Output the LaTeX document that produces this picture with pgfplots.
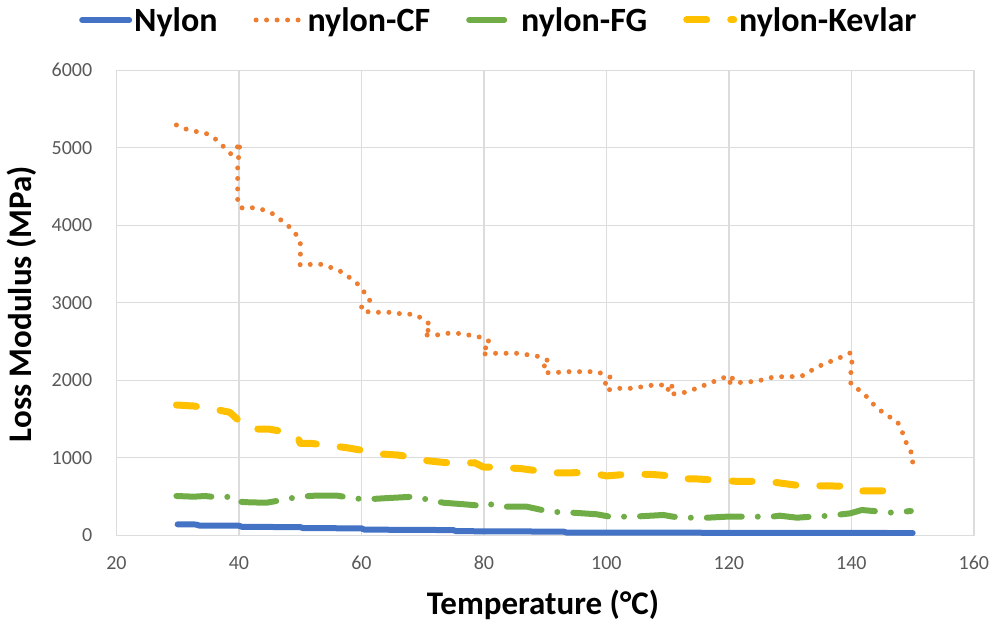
\documentclass[border=0pt]{standalone}
\usepackage{fontspec}
\setmainfont{Carlito}
\usepackage{pgfplots}
\pgfplotsset{compat=1.18}
\definecolor{cblue}{HTML}{4472C4}
\definecolor{corange}{HTML}{ED7D31}
\definecolor{cgreen}{HTML}{70AD47}
\definecolor{cyellow}{HTML}{FFC000}
\definecolor{gridgray}{HTML}{DCDCDC}
\definecolor{tickgray}{HTML}{595959}
\begin{document}
\begin{tikzpicture}
\begin{axis}[
  scale only axis, width=857.5pt, height=465pt,
  xmin=20, xmax=160, ymin=0, ymax=6000,
  xtick={20,40,...,160}, ytick={0,1000,...,6000},
  grid=major, major grid style={draw=gridgray, line width=1.2pt},
  axis line style={draw=gridgray, line width=1.2pt},
  major tick length=0pt,
  tick label style={font=\fontsize{20}{24}\selectfont, text=tickgray},
  /pgf/number format/assume math mode=true,
  /pgf/number format/1000 sep={},
  xticklabel style={anchor=center, yshift=-28pt, inner sep=0pt},
  yticklabel style={anchor=east, xshift=-24pt, inner sep=0pt},
  xlabel={Temperature (°C)}, ylabel={Loss Modulus (MPa)},
  label style={font=\fontsize{33}{40}\selectfont\bfseries},
  xlabel style={at={(axis description cs:0.4975,-0.1505)}, anchor=center},
  ylabel style={at={(axis description cs:-0.1101,0.497)}, anchor=center},
  legend columns=4,
  legend image code/.code={\draw[#1] (0pt,0pt) -- (47pt,0pt);},
  legend style={draw=none, fill=none, at={(axis description cs:0.446,1.108)}, anchor=center,
    font=\fontsize{34}{40}\selectfont\bfseries, nodes={inner sep=2pt},
    /tikz/every even column/.append style={column sep=34pt}},
]
\addplot[cblue, line width=6pt, line cap=round, line join=round] coordinates {
(30,140) (33,138) (33.5,125) (40,122) (40.5,108) (50,104) (50.5,92) (60,88) (60.5,72) (75,66) (75.5,52) (93,46) (93.5,34) (150,28)};
\addlegendentry{Nylon}
\addplot[corange, line width=5pt, line cap=round, line join=round, dash pattern=on 0pt off 10.5pt] coordinates {
(29.8,5293) (31.5,5237) (33.2,5206) (34.9,5177) (36.4,5099) (37.6,5005) (38.7,4919) (39.5,4960) (40.1,5074) (40.1,4935) (39.8,4819) (39.8,4703) (39.8,4561) (39.8,4412) (39.8,4270) (40.6,4218) (42.4,4226) (44.1,4196) (45.7,4141) (47.0,4058) (48.2,3981) (49.3,3883) (50.0,3787) (50.1,3680) (50.0,3594) (50.0,3486) (51.9,3495) (53.4,3495) (55.1,3452) (56.7,3400) (58.0,3328) (59.2,3258) (60.4,3142) (61.4,3035) (59.8,2928) (61.3,2876) (63.0,2876) (64.8,2876) (66.7,2854) (68.6,2850) (70.4,2777) (71.5,2690) (70.1,2583) (72.3,2583) (73.9,2605) (75.7,2605) (77.5,2583) (79.1,2561) (80.7,2519) (81.0,2432) (79.6,2403) (80.2,2339) (81.8,2347) (83.7,2347) (85.5,2347) (87.4,2325) (89.2,2303) (90.8,2239) (89.7,2174) (90.0,2097) (91.6,2097) (93.2,2110) (95.0,2110) (96.8,2110) (98.4,2110) (100.0,2067) (100.9,2025) (99.5,1938) (100.6,1873) (102.2,1895) (104.1,1895) (105.9,1916) (107.7,1938) (109.3,1938) (111.2,1916) (109.8,1873) (110.8,1822) (112.6,1839) (114.3,1883) (115.8,1929) (117.5,1981) (119.1,2032) (120.7,2032) (119.6,1981) (121.0,1960) (122.6,1981) (124.5,1981) (126.2,2025) (127.8,2045) (130.0,2045) (131.9,2054) (133.4,2123) (134.9,2187) (136.5,2239) (137.9,2283) (138.7,2312) (139.9,2355) (140.1,2218) (139.9,2089) (139.9,1947) (141.1,1883) (142.5,1787) (143.7,1680) (145.1,1586) (146.6,1508) (147.5,1465) (148.2,1357) (148.7,1237) (149.3,1134) (150.0,1035) (150.0,893)};
\addlegendentry{nylon-CF}
\addplot[cgreen, line width=6pt, line cap=round, line join=round, dash pattern=on 35pt off 16pt on 0pt off 16pt] coordinates {
(29.8,506) (32.6,497) (34.5,506) (36.4,489) (39.0,497) (39.9,432) (41.8,424) (44.5,419) (47.7,463) (49.7,497) (52.4,510) (56.1,510) (58.7,476) (60.9,463) (63.6,476) (68.5,497) (70.7,463) (73.4,419) (76.9,398) (79.4,381) (80.5,411) (82.6,368) (87.0,368) (89.2,330) (90.8,303) (94.6,290) (98.4,270) (100.6,239) (104.4,239) (107.3,252) (109.3,261) (110.9,239) (113.1,226) (116.5,226) (119.6,239) (122.9,239) (125.1,239) (127.0,239) (128.3,252) (131.1,226) (133.5,239) (136.5,252) (139.8,282) (141.7,325) (146.8,290) (149.7,312)};
\addlegendentry{nylon-FG}
\addplot[cyellow, line width=7pt, line cap=round, line join=round, dash pattern=on 20pt off 24pt] coordinates {
(29.8,1680) (32.6,1667) (36.1,1624) (38.5,1586) (39.9,1486) (41.8,1370) (44.8,1370) (48.3,1323) (49.7,1250) (50.0,1186) (51.6,1186) (54.1,1164) (57.6,1129) (59.8,1099) (61.4,1057) (65.8,1035) (67.9,1013) (69.8,970) (72.3,948) (75.0,928) (78.5,935) (79.9,880) (82.5,876) (86.2,858) (88.6,832) (90.3,805) (95.2,806) (98.4,790) (100.0,765) (103.4,786) (107.1,786) (110.6,765) (111.5,729) (114.4,728) (117.5,712) (121.3,695) (126.2,695) (128.0,677) (129.5,661) (131.8,637) (135.7,637) (139.0,632) (140.3,605) (141.1,570) (145.1,572) (148.0,572)};
\addlegendentry{nylon-Kevlar}
\end{axis}
\pgfresetboundingbox
\useasboundingbox (-116.4pt,-88.8pt) rectangle (878.6pt,535.2pt);
\end{tikzpicture}
\end{document}
